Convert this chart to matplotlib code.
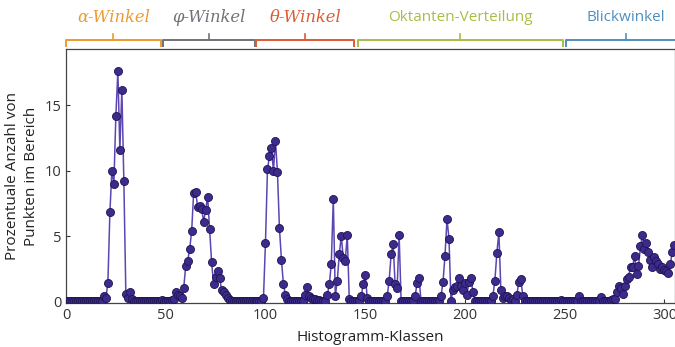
import numpy as np
import matplotlib
matplotlib.use('Agg')
import matplotlib.pyplot as plt
import matplotlib.transforms as mtransforms

# percentage of points per histogram class
values = [
    0, 0, 0, 0, 0, 0, 0, 0, 0, 0,
    0, 0, 0, 0, 0, 0, 0, 0, 0.05, 0.4,
    0.3, 1.4, 6.8, 10.0, 9.0, 14.2, 17.6, 11.6, 16.2, 9.2,
    0.6, 0.3, 0.7, 0.2, 0.05, 0, 0, 0, 0, 0,
    0, 0, 0, 0, 0, 0, 0, 0.05, 0.1, 0.05,
    0, 0, 0.05, 0.1, 0.2, 0.7, 0.5, 0.4, 0.3, 1.0,
    2.7, 3.1, 4.0, 5.4, 8.3, 8.4, 7.2, 7.3, 7.1, 6.1,
    7.0, 8.0, 5.5, 3.0, 1.3, 1.9, 2.3, 1.8, 0.9, 0.7,
    0.5, 0.3, 0.1, 0, 0, 0, 0, 0, 0, 0,
    0, 0, 0, 0, 0, 0, 0, 0, 0.05, 0.3,
    4.5, 10.1, 11.1, 11.7, 10.0, 12.3, 9.9, 5.6, 3.2, 1.3,
    0.5, 0.2, 0.05, 0, 0, 0, 0, 0, 0, 0.05,
    0.5, 1.1, 0.4, 0.3, 0.2, 0.15, 0.1, 0.1, 0.05, 0,
    0.05, 0.5, 1.3, 2.9, 7.8, 0.4, 1.6, 3.6, 5.0, 3.3,
    3.1, 5.1, 0.2, 0, 0, 0, 0, 0, 0.4, 1.3,
    2.0, 0.3, 0, 0, 0, 0, 0, 0, 0, 0,
    0, 0.4, 1.6, 3.6, 4.4, 1.3, 1.0, 5.1, 0, 0,
    0, 0, 0, 0, 0, 0.4, 1.4, 1.8, 0, 0,
    0, 0, 0, 0, 0, 0, 0, 0, 0.4, 1.5,
    3.5, 6.3, 4.8, 0, 0.9, 1.1, 1.2, 1.8, 1.2, 0.9,
    1.4, 0.5, 1.5, 1.8, 0.7, 0, 0, 0, 0, 0,
    0, 0, 0, 0, 0.4, 1.6, 3.7, 5.3, 0.9, 0.3,
    0.4, 0.4, 0.3, 0.1, 0.2, 0.05, 0.5, 1.5, 1.7, 0.4,
    0, 0, 0, 0, 0, 0, 0, 0, 0, 0,
    0, 0, 0, 0, 0, 0, 0, 0, 0.1, 0,
    0, 0, 0, 0, 0, 0, 0.05, 0.45, 0.05, 0,
    0, 0, 0, 0, 0, 0, 0.05, 0.05, 0.35, 0.05,
    0, 0, 0, 0.1, 0.2, 0.2, 0.7, 1.2, 1.0, 0.6,
    1.2, 1.7, 1.9, 2.6, 2.6, 3.5, 2.1, 2.7, 4.2, 5.1,
    4.0, 4.5, 3.8, 3.2, 2.6, 3.4, 3.1, 2.9, 2.5, 2.6,
    2.4, 2.3, 2.2, 2.9, 3.8, 4.3,
]
classes = np.arange(len(values))

# feature groups along the histogram classes
group_labels = ['α-Winkel', 'φ-Winkel', 'θ-Winkel', 'Oktanten-Verteilung', 'Blickwinkel']
group_start = [0, 48.5, 95.5, 146.5, 250.5]
group_end = [47.5, 94.5, 144.5, 249, 311]
group_colors = ['#EE9A2E', '#6F7378', '#DD5A34', '#A8BE46', '#4F8FBF']
group_italic = [True, True, True, False, False]

fig = plt.figure(figsize=(6.75, 3.47), dpi=100)
ax = fig.add_axes([66 / 675, 44 / 347, 609 / 675, 254 / 347])

ax.plot(classes, values, '-', color='#5B46B2', lw=1.1, zorder=2)
ax.plot(classes, values, 'o', ms=5.8, mfc='#3D2A8C', mec='#1E1450', mew=0.6, zorder=3)

ax.set_xlim(0, 305.3)
ax.set_ylim(-0.12, 19.3)
ax.set_xticks([0, 50, 100, 150, 200, 250, 300])
ax.set_yticks([0, 5, 10, 15])
ax.tick_params(direction='in', length=3, labelsize=10.5, colors='#333333', labelcolor='#333333')
for s in ax.spines.values():
    s.set_color('#444444')
    s.set_linewidth(0.9)
for lab in ax.get_xticklabels() + ax.get_yticklabels():
    lab.set_family('Open Sans')

ax.set_xlabel('Histogramm-Klassen', fontsize=11, family='Open Sans', color='#222222', labelpad=5)
ax.set_ylabel('Prozentuale Anzahl von\nPunkten im Bereich', fontsize=11, family='Open Sans',
              color='#222222', labelpad=4, linespacing=1.3)

# brackets above the axes
trans = mtransforms.blended_transform_factory(ax.transData, ax.transAxes)
y_line, y_hook, y_mid, y_text = 1.035, 1.012, 1.058, 1.125
for lab, a, b, c, it in zip(group_labels, group_start, group_end, group_colors, group_italic):
    m = (a + b) / 2
    ax.plot([a, a, b, b], [y_hook, y_line, y_line, y_hook], color=c, lw=1.4,
            transform=trans, clip_on=False, solid_joinstyle='round')
    ax.plot([m, m], [y_line, y_mid], color=c, lw=1.2, transform=trans, clip_on=False)
    if it:
        ax.text(m, y_text, lab, color=c, fontsize=11.8, style='italic', family='DejaVu Serif',
                ha='center', va='center', transform=trans)
    else:
        ax.text(m, y_text, lab, color=c, fontsize=11, family='Open Sans',
                ha='center', va='center', transform=trans)

plt.savefig('out.png', dpi=100)
